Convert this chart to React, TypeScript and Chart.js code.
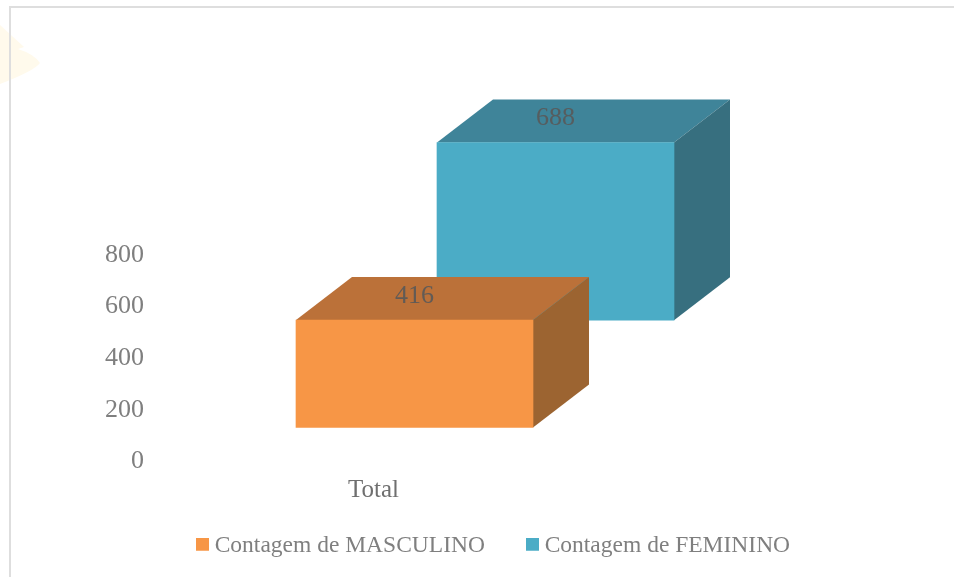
import React, { useEffect, useRef } from "react";
import { Chart, registerables } from "chart.js";

Chart.register(...registerables);

const categories = ["Total"];
const seriesNames = ["Contagem de MASCULINO", "Contagem de FEMININO"];
const masculino = [416];
const feminino = [688];
// Excel's 3D depth lifts each series off the axis: floor of each box in axis units
const masculinoFloor = [132];
const femininoFloor = [547];
const yTicks = [0, 200, 400, 600, 800];

const FONT = "'Liberation Serif', serif";
const ORANGE = { front: "#F79646", top: "#BB7139", side: "#9C6431" };
const BLUE = { front: "#4BACC6", top: "#3F8499", side: "#376F7F" };
const DEPTH_X = 56;
const DEPTH_Y = 43;
const SHIFT_X = [-140, 1];

const box3d = {
  id: "box3d",
  beforeDraw(chart: any) {
    const { ctx } = chart;
    ctx.save();
    ctx.fillStyle = "#FFFFFF";
    ctx.fillRect(0, 0, chart.width, chart.height);
    ctx.fillStyle = "#FFFAEC";
    ctx.beginPath();
    ctx.moveTo(0, 25);
    ctx.lineTo(24, 47);
    ctx.lineTo(18, 49);
    ctx.quadraticCurveTo(34, 54, 40, 63);
    ctx.quadraticCurveTo(34, 71, 0, 84);
    ctx.closePath();
    ctx.fill();
    ctx.fillStyle = "#DEDEDE";
    ctx.fillRect(9, 6, 2, 571);
    ctx.fillRect(9, 6, 945, 2);
    ctx.restore();
  },
  afterLayout(chart: any) {
    // Chart.js clips axis labels to the axis box; let the box reach past the label
    chart.scales.x.bottom = chart.scales.x.top + 60;
  },
  afterDatasetsUpdate(chart: any) {
    chart.data.datasets.forEach((_: any, i: number) => {
      chart.getDatasetMeta(i).data.forEach((bar: any) => {
        bar.x += SHIFT_X[i];
      });
    });
  },
  beforeDatasetDraw(chart: any, args: any) {
    const { ctx } = chart;
    const colors = args.index === 0 ? ORANGE : BLUE;
    args.meta.data.forEach((bar: any) => {
      const l = bar.x - bar.width / 2;
      const r = bar.x + bar.width / 2;
      const t = bar.y;
      const b = bar.base;
      ctx.save();
      ctx.fillStyle = colors.top;
      ctx.beginPath();
      ctx.moveTo(l, t);
      ctx.lineTo(l + DEPTH_X, t - DEPTH_Y);
      ctx.lineTo(r + DEPTH_X, t - DEPTH_Y);
      ctx.lineTo(r, t);
      ctx.closePath();
      ctx.fill();
      ctx.fillStyle = colors.side;
      ctx.beginPath();
      ctx.moveTo(r, t);
      ctx.lineTo(r + DEPTH_X, t - DEPTH_Y);
      ctx.lineTo(r + DEPTH_X, b - DEPTH_Y);
      ctx.lineTo(r, b);
      ctx.closePath();
      ctx.fill();
      ctx.restore();
    });
  },
  afterDatasetDraw(chart: any, args: any) {
    const { ctx } = chart;
    const values = args.index === 0 ? masculino : feminino;
    args.meta.data.forEach((bar: any, j: number) => {
      ctx.save();
      ctx.font = `26px ${FONT}`;
      ctx.fillStyle = "rgba(89,89,89,0.9)";
      ctx.textAlign = "center";
      ctx.textBaseline = "middle";
      ctx.fillText(String(values[j]), bar.x, bar.y - 24);
      ctx.restore();
    });
  },
};

function swatchFor(color: string): HTMLCanvasElement {
  const c = document.createElement("canvas");
  c.width = 13;
  c.height = 17;
  const g = c.getContext("2d")!;
  g.fillStyle = color;
  g.fillRect(0, 0, 13, 13);
  return c;
}

export default function App() {
  const ref = useRef<HTMLCanvasElement>(null);
  useEffect(() => {
    const icons = [swatchFor(ORANGE.front), swatchFor(BLUE.front)];
    const chart = new Chart(ref.current!, {
      type: "bar",
      data: {
        labels: categories,
        datasets: [
          {
            label: seriesNames[0],
            data: masculino.map((v, i) => [masculinoFloor[i], masculinoFloor[i] + v]) as any,
            backgroundColor: ORANGE.front,
          },
          {
            label: seriesNames[1],
            data: feminino.map((v, i) => [femininoFloor[i], femininoFloor[i] + v]) as any,
            backgroundColor: BLUE.front,
          },
        ],
      },
      options: {
        animation: false,
        responsive: false,
        grouped: false,
        barThickness: 237,
        layout: { padding: { left: 38, right: 0, top: 100, bottom: 9 } },
        scales: {
          x: {
            grid: { display: false },
            border: { display: false },
            ticks: {
              color: "#6F6F6F",
              font: { family: FONT, size: 25 },
              labelOffset: -181,
              padding: 6,
              maxRotation: 0,
            },
            afterFit(scale: any) {
              scale.height = 26;
            },
          },
          y: {
            min: 0,
            max: 1400,
            grid: { display: false, drawTicks: false },
            border: { display: false },
            ticks: {
              color: "#7F7F7F",
              font: { family: FONT, size: 26 },
              padding: 11,
              stepSize: 200,
              autoSkip: false,
              callback: (v: any) => (yTicks.includes(Number(v)) ? String(v) : ""),
            },
            afterFit(scale: any) {
              scale.width = 117;
            },
          },
        },
        plugins: {
          tooltip: { enabled: false },
          legend: {
            position: "bottom",
            labels: {
              color: "#7F7F7F",
              font: { family: FONT, size: 23.5 },
              padding: 47,
              usePointStyle: true,
              pointStyleWidth: 1,
              generateLabels: (c: any) =>
                c.data.datasets.map((d: any, i: number) => ({
                  text: d.label,
                  fillStyle: d.backgroundColor,
                  strokeStyle: d.backgroundColor,
                  lineWidth: 0,
                  pointStyle: icons[i],
                  datasetIndex: i,
                  fontColor: "#7F7F7F",
                })),
            },
          },
        },
      } as any,
      plugins: [box3d],
    });
    return () => chart.destroy();
  }, []);
  return (
    <div style={{ position: "absolute", left: 0, top: 0, width: 954, height: 577 }}>
      <canvas ref={ref} width={954} height={577} style={{ display: "block" }} />
    </div>
  );
}
